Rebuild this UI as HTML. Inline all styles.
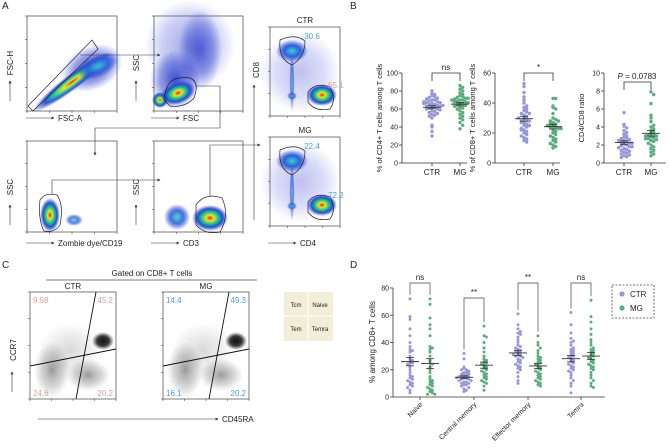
<!DOCTYPE html>
<html><head><meta charset="utf-8"><style>
body{margin:0;background:#fff}
svg{display:block;font-family:"Liberation Sans",sans-serif}
</style></head><body>
<svg id="fig" width="669" height="448" viewBox="0 0 669 448">
<defs>
<radialGradient id="heat"><stop offset="0" stop-color="#e0201a"/><stop offset="0.22" stop-color="#f3e21a"/><stop offset="0.45" stop-color="#22c98a"/><stop offset="0.7" stop-color="#1f4fd8"/><stop offset="1" stop-color="#2030c0" stop-opacity="0"/></radialGradient>
<radialGradient id="cool"><stop offset="0" stop-color="#3ad0c8"/><stop offset="0.5" stop-color="#2a60e0"/><stop offset="1" stop-color="#2030c0" stop-opacity="0"/></radialGradient>
<radialGradient id="haze"><stop offset="0" stop-color="#1f2fc8" stop-opacity="0.85"/><stop offset="0.6" stop-color="#2b3ccf" stop-opacity="0.5"/><stop offset="1" stop-color="#2b3ccf" stop-opacity="0"/></radialGradient>
<radialGradient id="blk"><stop offset="0" stop-color="#111"/><stop offset="0.55" stop-color="#222" stop-opacity="0.9"/><stop offset="1" stop-color="#333" stop-opacity="0"/></radialGradient>
<radialGradient id="gry"><stop offset="0" stop-color="#444" stop-opacity="0.6"/><stop offset="0.6" stop-color="#666" stop-opacity="0.3"/><stop offset="1" stop-color="#777" stop-opacity="0"/></radialGradient>
<marker id="arr" markerWidth="5" markerHeight="5" refX="4" refY="2.5" orient="auto"><path d="M0,0L5,2.5L0,5z" fill="#333"/></marker>
</defs>
<g id="root"></g>
</svg>
<script>
// ---- Panel B data ----
const bCats = ["CTR","MG"];
const b1Ctr = [80,77,76,75,74,73,72,71,70,70,69,68,67,67,66,65,65,64,63,63,62,62,61,60,60,59,58,57,56,55,54,53,52,50,42,40,35,30,66,68,64];
const b1Mg  = [86,84,82,80,78,76,75,74,73,72,71,70,70,69,68,68,67,66,66,65,64,63,62,61,60,58,56,54,52,50,48,45,42,38,70,72];
const b2Ctr = [53,51,47,44,42,40,38,37,36,35,34,33,32,31,30,29,28,28,27,26,25,24,23,22,21,20,19,18,17,16,15,14,30,27,25,33,22];
const b2Mg  = [43,43,38,37,36,33,30,29,28,27,26,26,25,24,24,23,22,21,20,19,18,17,16,15,14,13,12,11,10,25,23,28];
const b3Ctr = [5.6,4.3,4.1,3.9,3.6,3.4,3.2,3.0,2.9,2.8,2.7,2.6,2.5,2.4,2.3,2.2,2.1,2.0,1.9,1.8,1.7,1.6,1.5,1.4,1.3,1.2,1.1,1.0,0.9,0.8,0.7,0.6,2.5,2.2,1.8];
const b3Mg  = [7.9,7.6,6.6,5.3,5.0,4.6,4.2,4.0,3.8,3.6,3.5,3.3,3.2,3.1,3.0,2.9,2.8,2.7,2.6,2.5,2.4,2.2,2.0,1.8,1.6,1.4,1.2,1.0,0.8,3.0,2.7];
const b1Ticks = [0,20,40,60,80,100];
const b2Ticks = [0,20,40,60];
const b3Ticks = [0,2,4,6,8,10];
// ---- Panel D data ----
const dCats = ["Naive","Central memory","Effector memory","Temra"];
const dSig = ["ns","**","**","ns"];
const dCtr = [
 [72,59,57,50,45,40,37,35,34,33,30,28,27,26,25,24,22,20,18,16,15,14,13,12,11,10,9,8,7,5,3],
 [32,28,22,21,20,20,19,18,18,17,17,16,16,15,15,14,14,13,13,12,12,11,11,10,10,9,9,8,7,6,5,4,15,14],
 [61,53,50,48,47,46,44,42,40,38,37,36,35,34,33,32,31,30,30,29,28,27,26,25,24,23,22,21,20,18,15,12,10,33,31],
 [62,53,47,43,41,40,38,36,35,34,33,32,31,30,29,28,27,26,25,24,23,22,21,20,19,18,16,14,12,10,8,3]];
const dMg = [
 [72,68,58,53,50,45,37,36,35,33,30,27,26,24,22,20,18,15,13,12,11,10,9,8,7,6,5,4,3,2,2],
 [52,45,44,40,36,33,30,28,27,26,25,24,23,22,21,20,19,18,17,16,15,14,13,12,11,10,8,5],
 [45,40,38,36,34,32,30,29,28,27,26,25,24,23,22,21,20,19,18,17,16,15,14,13,12,11,10,9,8],
 [71,59,55,50,46,42,40,38,36,35,34,33,32,31,30,29,28,27,26,25,24,23,22,21,20,18,16,14,12,10,8,7]];
const dTicks = [0,20,40,60,80];

const NS="http://www.w3.org/2000/svg";
const root=document.getElementById('root');
const CP="#9896d8", CG="#5aad7c";
function el(tag,attrs,parent,text){const e=document.createElementNS(NS,tag);for(const k in attrs)e.setAttribute(k,attrs[k]);if(text!==undefined)e.textContent=text;(parent||root).appendChild(e);return e;}
function txt(x,y,s,size,opts,name){const o=Object.assign({x:x,y:y,'font-size':size,fill:'#222'},opts||{});const t=el('text',o,null,s);

return t;}
function ln(x1,y1,x2,y2,w,c,extra){return el('line',Object.assign({x1,y1,x2,y2,stroke:c||'#333','stroke-width':w||0.8},extra||{}));}

[["A",2,9],["B",350,9],["C",2,268],["D",350,268]].forEach(p=>{txt(p[1],p[2],p[0],10,{},'panel-letter-'+p[0].toLowerCase());});

// ---------- Flow plots (panel A) ----------
function box(x,y,w,h,name){const r=el('rect',{x,y,width:w,height:h,fill:'#fff',stroke:'#444','stroke-width':0.7});

return r;}
function blob(cx,cy,rx,ry,rot,fill,op){el('ellipse',{cx,cy,rx,ry,fill:'url(#'+fill+')',opacity:op||1,transform:`rotate(${rot||0} ${cx} ${cy})`});}
function gate(d){el('path',{d,fill:'none',stroke:'#222','stroke-width':0.7});}
function smallTicks(x,y,w,h){for(let i=0;i<=4;i++){ln(x-2,y+h-i*h/4,x,y+h-i*h/4,0.5);ln(x+i*w/4,y+h,x+i*w/4,y+h+2,0.5);}}
// A1
box(27,16,90,95,'plot-fsc-a-vs-fsc-h');
blob(92,68,32,22,-25,'haze',1);
blob(72,82,48,8,-37,'heat',0.95);
blob(98,66,22,11,-25,'cool',0.9);
gate('M28,106 L92,40 L98,49 L33,111 Z');
smallTicks(27,16,90,95);
// A2
box(154,16,89,95,'plot-fsc-vs-ssc');
blob(175,80,25,30,0,'haze',1);
blob(200,50,22,40,0,'haze',0.8);
blob(190,45,45,45,0,'haze',0.5);
blob(160,100,8,8,0,'heat');
blob(178,93,18,11,-20,'heat');
gate('M166,90 Q170,75 190,78 Q200,82 194,98 Q185,108 170,106 Q162,100 166,90 Z');
smallTicks(154,16,89,95);
// A3
box(27,141,90,91,'plot-zombie-vs-ssc');
blob(50,215,10,17,0,'heat');
blob(74,220,9,6,0,'cool',0.8);
gate('M40,200 Q45,192 57,195 Q64,205 60,225 Q55,233 44,231 Q38,220 40,200 Z');
smallTicks(27,141,90,91);
// A4
box(154,141,89,91,'plot-cd3-vs-ssc');
blob(177,217,13,13,0,'cool',0.9);
blob(210,218,18,13,0,'heat');
gate('M196,205 Q205,192 222,198 Q230,215 220,232 Q205,235 196,225 Z');
smallTicks(154,141,89,91);
function cdPlot(y,name,title,v1,v2){
 box(270,y,70,89,name);
 txt(305,y-4,title,8,{'text-anchor':'middle'},'plot-title-'+title.toLowerCase());
 blob(292,y+55,2.5,30,0,'cool',0.7);
 blob(300,y+45,40,40,0,'haze',0.35);
 blob(292,y+24,16,11,0,'cool');
 blob(322,y+68,15,11,0,'heat');
 blob(292,y+69,5,4,0,'cool',0.8);
 gate(`M280,${y+13} Q295,${y+6} 305,${y+14} Q305,${y+30} 292,${y+38} Q278,${y+32} 280,${y+13} Z`);
 gate(`M308,${y+65} Q315,${y+55} 330,${y+60} Q337,${y+72} 330,${y+82} Q315,${y+85} 308,${y+75} Z`);
 txt(312,y+12,v1,8,{'text-anchor':'middle',fill:'#4a9ed6'},'gate-value-cd8');
 txt(328,y+61,v2,8,{'text-anchor':'start',fill:title==='CTR'?'#d99a9a':'#4a9ed6'},'gate-value-cd4');
 smallTicks(270,y,70,89);
}
cdPlot(27,'plot-ctr-cd4-vs-cd8','CTR','30.6','65.1');
cdPlot(137,'plot-mg-cd4-vs-cd8','MG','22.4','72.2');
ln(80,55,160,55,0.6,'#333',{'marker-end':'url(#arr)'});
el('polyline',{points:'195,86 220,86 220,128 95,128 95,155',fill:'none',stroke:'#333','stroke-width':0.6,'marker-end':'url(#arr)'});
el('polyline',{points:'52,194 52,180 160,180',fill:'none',stroke:'#333','stroke-width':0.6,'marker-end':'url(#arr)'});
el('polyline',{points:'210,196 210,145 260,145',fill:'none',stroke:'#333','stroke-width':0.6,'marker-end':'url(#arr)'});
ln(254,220,254,85,0.6,'#333',{'marker-end':'url(#arr)'});
function vlab(x,y,s,name){txt(x,y,s,8,{transform:`rotate(-90 ${x} ${y})`,'text-anchor':'middle'},name);ln(x-3,y+38,x-3,y+18,0.6,'#333',{'marker-end':'url(#arr)'});}
vlab(13,63,'FSC-H','y-label-fsc-h'); vlab(139,63,'SSC','y-label-ssc');
vlab(13,187,'SSC','y-label-ssc-2'); vlab(139,187,'SSC','y-label-ssc-3');
function hlab(x,y,s,name){ln(x-32,y-3,x-4,y-3,0.6,'#333',{'marker-end':'url(#arr)'});txt(x,y,s,8,{},name);}
hlab(58,121,'FSC-A','x-label-fsc-a'); hlab(183,121,'FSC','x-label-fsc');
hlab(58,246,'Zombie dye/CD19','x-label-zombie'); hlab(183,246,'CD3','x-label-cd3');
hlab(300,246,'CD4','x-label-cd4');
txt(259,70,'CD8',8,{transform:'rotate(-90 259 70)','text-anchor':'middle'},'y-label-cd8');

// ---------- Panel C ----------
txt(152,276,'Gated on CD8+ T cells',8,{'text-anchor':'middle'},'gated-title');
ln(46,280,257,280,0.7,'#555');
function ccPlot(x,name,title,vals,col){
 box(x,292,86,107,name);
 txt(x+43,289,title,8,{'text-anchor':'middle'},'plot-title-'+title.toLowerCase());
 blob(x+22,370,18,28,0,'gry',0.9);
 blob(x+58,375,22,16,0,'gry',0.9);
 blob(x+40,350,32,28,0,'gry',0.35);
 blob(x+73,341,11,9,0,'blk');
 ln(x+66,292,x+46,399,0.9,'#111'); ln(x,366,x+86,349,0.9,'#111');
 txt(x+3,303,vals[0],8,{fill:col},'quadrant-tcm');
 txt(x+83,303,vals[1],8,{fill:col,'text-anchor':'end'},'quadrant-naive');
 txt(x+3,396,vals[2],8,{fill:col},'quadrant-tem');
 txt(x+83,396,vals[3],8,{fill:col,'text-anchor':'end'},'quadrant-temra');
 smallTicks(x,292,86,107);
}
ccPlot(30,'plot-ctr-cd45ra-vs-ccr7','CTR',['9.98','45.2','24.6','20.2'],'#d99a9a');
ccPlot(163,'plot-mg-cd45ra-vs-ccr7','MG',['14.4','49.3','16.1','20.2'],'#4a9ed6');
txt(16,350,'CCR7',8,{transform:'rotate(-90 16 350)','text-anchor':'middle'},'y-label-ccr7');
ln(12,392,12,372,0.6,'#333',{'marker-end':'url(#arr)'});
ln(38,419,218,419,0.6,'#333',{'marker-end':'url(#arr)'});
txt(222,422,'CD45RA',8,{},'x-label-cd45ra');
const lg=el('rect',{x:284,y:292,width:49,height:49,fill:'#f3eed8'});


ln(284,316,333,316,1,'#fff');ln(308,292,308,341,1,'#fff');
txt(296,307,'Tcm',6,{'text-anchor':'middle'},'legend-tcm');txt(320,307,'Naive',6,{'text-anchor':'middle'},'legend-naive');
txt(296,331,'Tem',6,{'text-anchor':'middle'},'legend-tem');txt(320,331,'Temra',6,{'text-anchor':'middle'},'legend-temra');

// ---------- dot plot helpers ----------
function swarm(vals,yScale,cx,r,name){
 const bins={};
 vals.forEach(v=>{const py=yScale(v);const b=Math.round(py/(r*2.2));bins[b]=(bins[b]||0);const k=bins[b]++;
  const off=k===0?0:((k%2)?1:-1)*Math.min(Math.ceil(k/2),4)*r*1.6;
  const c=el('circle',{cx:cx+off,cy:py,r:r,fill:name.indexOf('ctr')>=0?CP:CG});
  
  });
 const m=vals.reduce((a,b)=>a+b,0)/vals.length;
 const sd=Math.sqrt(vals.reduce((a,b)=>a+(b-m)*(b-m),0)/(vals.length-1));const se=sd/Math.sqrt(vals.length);
 ln(cx-9,yScale(m),cx+9,yScale(m),0.9,'#333');
 ln(cx,yScale(m-se),cx,yScale(m+se),0.8,'#333');
 ln(cx-4,yScale(m-se),cx+4,yScale(m-se),0.8,'#333');ln(cx-4,yScale(m+se),cx+4,yScale(m+se),0.8,'#333');
}
function yAxis(x,y0,y1,ticks,max){
 const s=v=>y0-(v/max)*(y0-y1);
 ln(x,y0,x,y1,0.8,'#333');
 ticks.forEach(t=>{ln(x-3,s(t),x,s(t),0.8,'#333');txt(x-4,s(t)+2.5,String(t),7,{'text-anchor':'end'},'y-tick');});
 return s;
}
function bracket(x1,x2,y,h,label,name){
 el('polyline',{points:`${x1},${y+h} ${x1},${y} ${x2},${y} ${x2},${y+h}`,fill:'none',stroke:'#333','stroke-width':0.8});
 txt((x1+x2)/2,y-3,label,8,{'text-anchor':'middle'},name);
}
function bPlot(x,x2,cx1,cx2,ticks,max,ctr,mg,ylab,sig,bracketY,name){
 const s=yAxis(x,163,73,ticks,max);
 ln(x,163,x2,163,0.8,'#333');
 [cx1,cx2].forEach((c,i)=>{ln(c,163,c,166,0.8,'#333');txt(c,175,bCats[i],8,{'text-anchor':'middle'},'x-tick-'+bCats[i].toLowerCase());});
 swarm(ctr,s,cx1,1.7,name+'-ctr-point');swarm(mg,s,cx2,1.7,name+'-mg-point');
 bracket(cx1,cx2,bracketY,8,sig,name+'-significance');
 txt(x-20,118,ylab,7.5,{transform:`rotate(-90 ${x-20} 118)`,'text-anchor':'middle'},name+'-y-title');
}
bPlot(402,467,432,460,b1Ticks,100,b1Ctr,b1Mg,'% of CD4+ T cells among T cells','ns',73,'cd4-pct');
bPlot(495,560,524,553,b2Ticks,60,b2Ctr,b2Mg,'% of CD8+ T cells among T cells','*',73,'cd8-pct');
bPlot(604,666,624,651,b3Ticks,10,b3Ctr,b3Mg,'CD4/CD8 ratio','',82,'ratio');
const pv=txt(637,79,'',8,{'text-anchor':'middle'},'ratio-p-value');
pv.innerHTML='<tspan font-style="italic">P</tspan> = 0.0783';

// ---------- Panel D ----------
const sd=yAxis(393,397,288,dTicks,80);
ln(393,397,605,397,0.8,'#333');
const gx=[420,474,528,581];
dCats.forEach((c,i)=>{
 const a=gx[i]-10,b=gx[i]+10;
 ln(gx[i],397,gx[i],400,0.8,'#333');
 txt(gx[i]+3,405,c,7,{'text-anchor':'end',transform:`rotate(-45 ${gx[i]+3} 405)`},'x-tick-'+c.toLowerCase().replace(' ','-'));
 swarm(dCtr[i],sd,a,1.5,'d-ctr-point');
 swarm(dMg[i],sd,b,1.5,'d-mg-point');
 const by=i===1?298:283;
 el('polyline',{points:`${a},${sd(Math.max(...dCtr[i]))-4} ${a},${by} ${b},${by} ${b},${sd(Math.max(...dMg[i]))-4}`,fill:'none',stroke:'#444','stroke-width':0.7});
 txt(gx[i],by-3,dSig[i],8,{'text-anchor':'middle'},'d-significance');
});
txt(375,342,'% among CD8+ T cells',8,{transform:'rotate(-90 375 342)','text-anchor':'middle'},'d-y-title');
const lb=el('rect',{x:612,y:285,width:42,height:33,fill:'none',stroke:'#444','stroke-width':0.8,'stroke-dasharray':'2,1.5'});


el('circle',{cx:622,cy:294,r:2.6,fill:CP});txt(630,297,'CTR',8,{},'legend-entry-ctr');
el('circle',{cx:622,cy:308,r:2.6,fill:CG});txt(630,311,'MG',8,{},'legend-entry-mg');
</script>
</body></html>
